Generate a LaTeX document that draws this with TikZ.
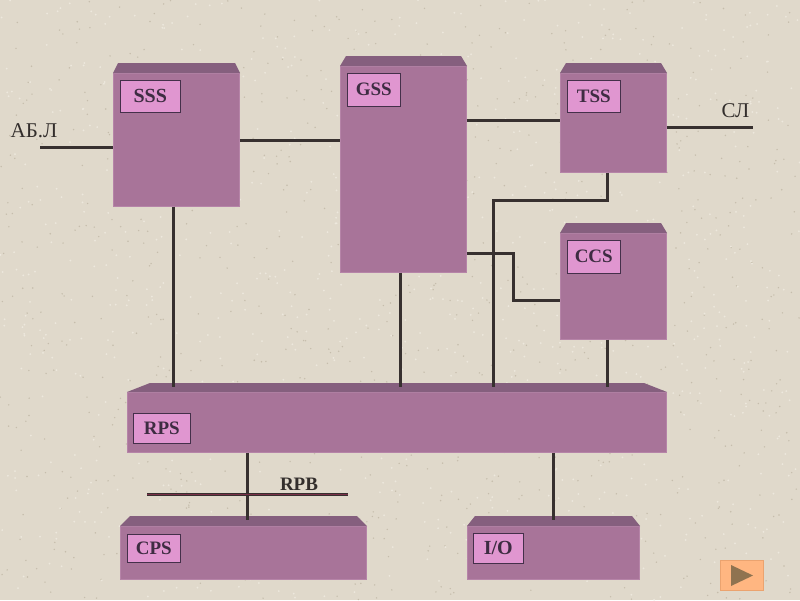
\documentclass[tikz,border=0pt]{standalone}
\usepackage{fontspec}
\setmainfont{Liberation Serif}
\definecolor{paper}{HTML}{E0D9CB}
\definecolor{speckdark}{HTML}{C6BDAC}
\definecolor{specklight}{HTML}{EDE8DD}
\definecolor{body}{HTML}{A87499}
\definecolor{bodyedge}{HTML}{B684A8}
\definecolor{band}{HTML}{855F7E}
\definecolor{tagfill}{HTML}{E096D0}
\definecolor{tagline}{HTML}{44304A}
\definecolor{tagtext}{HTML}{3E2C42}
\definecolor{wire}{HTML}{37302F}
\definecolor{busred}{HTML}{7A2F48}
\definecolor{btn}{HTML}{FFB681}
\definecolor{btnedge}{HTML}{EBA36F}
\definecolor{btntri}{HTML}{8F7350}
\definecolor{inktext}{HTML}{332E2C}
\tikzset{
  blockbody/.style={rectangle,fill=body,draw=bodyedge,line width=0.4pt,inner sep=0pt,outer sep=0pt},
  tagbox/.style={rectangle,fill=tagfill,draw=tagline,line width=0.9pt,inner sep=0pt,outer sep=0pt,text=tagtext,font=\fontsize{19}{19}\selectfont\bfseries},
  wirepath/.style={draw=wire,line width=3.2pt},
  sidetext/.style={text=inktext,font=\fontsize{21}{21}\selectfont,inner sep=0pt},
  bustext/.style={text=inktext,font=\fontsize{19}{19}\selectfont\bfseries,inner sep=0pt}
}
% name, x1, y1(top), x2, y2, band bottom, inset
\newcommand{\mkblock}[7]{%
  \node[blockbody,minimum width=#4pt-#2pt-0.5pt,minimum height=#5pt-#6pt-0.5pt,anchor=north west] (#1) at (#2,#6) {};
  \fill[band] (#2,#6) -- (#2+#7,#3) -- (#4-#7,#3) -- (#4,#6) -- cycle;
}
% name, x1, y1, x2, y2, text
\newcommand{\mktag}[6]{%
  \node[tagbox,minimum width=#4pt-#2pt-0.5pt,minimum height=#5pt-#3pt-0.5pt,anchor=north west] (#1) at (#2,#3) {#6};
}
\newcommand{\widetag}[1]{\fontsize{20}{20}\selectfont #1}
\begin{document}
\begin{tikzpicture}[x=1pt,y=-1pt]
\path[use as bounding box,fill=paper] (0,0) rectangle (800,600);
\begin{scope}
\clip (0,0) rectangle (800,600);
\pgfmathsetseed{4217}
\foreach \i in {1,...,900}{
  \pgfmathsetmacro{\px}{rnd*800}
  \pgfmathsetmacro{\py}{rnd*600}
  \fill[speckdark] (\px,\py) circle (0.8);
}
\foreach \i in {1,...,900}{
  \pgfmathsetmacro{\px}{rnd*800}
  \pgfmathsetmacro{\py}{rnd*600}
  \fill[specklight] (\px,\py) circle (1.0);
}
\end{scope}

\mkblock{sss}{113}{63}{240}{207}{73}{5}
\mkblock{gss}{340}{56}{467}{273}{66}{6}
\mkblock{tss}{560}{63}{667}{173}{73}{6}
\mkblock{ccs}{560}{223}{667}{340}{233}{6}
\mkblock{rps}{127}{383}{667}{453}{392}{23}
\mkblock{cps}{120}{516}{367}{580}{526}{10}
\mkblock{io}{467}{516}{640}{580}{526}{8}

\mktag{sssT}{120}{80}{181}{113}{\widetag{SSS}}
\mktag{gssT}{347}{73}{401}{107}{GSS}
\mktag{tssT}{567}{80}{621}{113}{TSS}
\mktag{ccsT}{567}{240}{621}{274}{CCS}
\mktag{rpsT}{133}{413}{191}{444}{RPS}
\mktag{cpsT}{127}{534}{181}{563}{CPS}
\mktag{ioT}{473}{533}{524}{564}{\widetag{I/O}}

\coordinate (abEnd) at (40,147.5);
\coordinate (slEnd) at (753,127.5);
\coordinate (busL) at (147,494.5);
\coordinate (busR) at (348,494.5);
\coordinate (tssBend) at (607.5,200.5);
\coordinate (tssBend2) at (493.5,200.5);
\coordinate (ccsBend) at (513.5,253.5);
\coordinate (ccsBend2) at (513.5,300.5);

\draw[wirepath] (abEnd) -- (sss.west |- abEnd);
\draw[wirepath] (sss.east |- 0,140.5) -- (gss.west |- 0,140.5);
\draw[wirepath] (gss.east |- 0,120.5) -- (tss.west |- 0,120.5);
\draw[wirepath] (tss.east |- slEnd) -- (slEnd);
\draw[wirepath] (sss.south -| 173.5,0) -- (173.5,387);
\draw[wirepath] (gss.south -| 400.5,0) -- (400.5,387);
\draw[wirepath] (tss.south -| tssBend) -- (tssBend) -- (tssBend2) -- (493.5,387);
\draw[wirepath] (gss.east |- ccsBend) -- (ccsBend) -- (ccsBend2) -- (ccs.west |- ccsBend2);
\draw[wirepath] (ccs.south -| 607.5,0) -- (607.5,387);
\draw[wirepath] (rps.south -| 247.5,0) -- (247.5,520);
\draw[wirepath] (rps.south -| 553.5,0) -- (553.5,520);

\draw[draw=wire,line width=3pt] (busL) -- (busR);
\draw[draw=busred,line width=1pt] (busL) -- (busR);

\node[bustext] (rpbT) at (299,484) {RPB};
\node[sidetext] (abT) at (34,131) {АБ.Л};
\node[sidetext] (slT) at (735.5,111) {СЛ};

\node[rectangle,fill=btn,draw=btnedge,line width=1pt,minimum width=43pt,minimum height=30pt,inner sep=0pt,anchor=north west] (next) at (720,560) {};
\fill[btntri] (731,565) -- (753,575.5) -- (731,586) -- cycle;
\end{tikzpicture}
\end{document}
